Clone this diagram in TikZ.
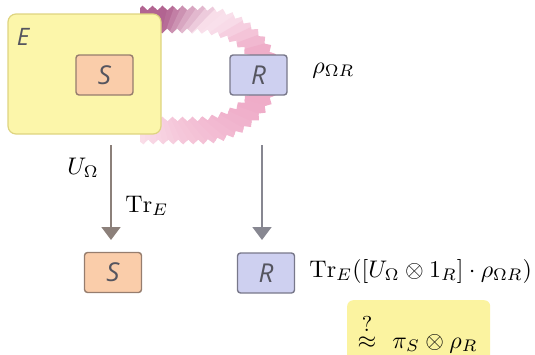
\documentclass[tikz,border=0pt]{standalone}
\usepackage{amsmath}
\usepackage{fontspec}
\usetikzlibrary{arrows.meta,decorations.pathmorphing,calc}
\newfontfamily\boxfont{Open Sans}
\definecolor{eyellow}{RGB}{252,246,170}
\definecolor{eborder}{RGB}{222,212,128}
\definecolor{sfill}{RGB}{250,205,170}
\definecolor{sborder}{RGB}{150,125,110}
\definecolor{rfill}{RGB}{206,208,240}
\definecolor{rborder}{RGB}{120,120,138}
\definecolor{txtgray}{RGB}{85,85,95}
\definecolor{arrL}{RGB}{140,128,122}
\definecolor{arrR}{RGB}{135,135,145}
\definecolor{hl}{RGB}{251,243,160}
\definecolor{bA}{RGB}{178,100,145}
\definecolor{bL}{RGB}{249,224,235}
\definecolor{bP}{RGB}{239,172,200}
\definecolor{bLtwo}{RGB}{250,222,233}
\begin{document}
\begin{tikzpicture}[x=1pt,y=-1pt,
  mathtxt/.style={inner sep=0pt, font=\fontsize{10}{12}\selectfont, scale=2.4},
  smallbox/.style={line width=1.4pt, rounded corners=3pt, minimum width=57pt, minimum height=40pt, inner sep=0pt,
     font=\boxfont\itshape\fontsize{26}{30}\selectfont, text=txtgray},
  sbox/.style={smallbox, draw=sborder, fill=sfill},
  rbox/.style={smallbox, draw=rborder, fill=rfill},
  ebox/.style={draw=eborder, fill=eyellow, line width=1.2pt, rounded corners=8pt, minimum width=153pt, minimum height=120pt, inner sep=0pt},
  bandfill/.style={decoration={zigzag, segment length=10pt, amplitude=2.4pt}},
  arrowL/.style={draw=arrL, line width=1.8pt, -{Triangle[width=19pt,length=13pt]}},
  arrowR/.style={draw=arrR, line width=1.8pt, -{Triangle[width=19pt,length=13pt]}}
]
\useasboundingbox (0,0) rectangle (535,354);
\coordinate (bc) at (150,75);
% entanglement band, shaded by angular sectors
\foreach \ang in {-110,-105,...,105}{
  \pgfmathsetmacro\m{\ang+2.5}
  \pgfmathtruncatemacro\seg{\m<-75 ? 0 : (\m<-42 ? 1 : (\m<-35 ? 2 : (\m<-12 ? 3 : (\m<15 ? 4 : 5))))}
  \ifcase\seg \colorlet{bandc}{bA}
  \or \pgfmathtruncatemacro\w{100*(\m+75)/33}\colorlet{bandc}{bL!\w!bA}
  \or \colorlet{bandc}{bL}
  \or \pgfmathtruncatemacro\w{100*(\m+35)/23}\colorlet{bandc}{bP!\w!bL}
  \or \colorlet{bandc}{bP}
  \or \pgfmathtruncatemacro\w{100*(\m-15)/85}\colorlet{bandc}{bLtwo!\w!bP}
  \fi
  \begin{scope}
    \clip (bc) -- +(\ang-0.4:400) -- +(\ang+5.4:400) -- cycle;
    \fill[bandfill, bandc] (140,8)
      decorate{-- (200,8) .. controls (245,8) and (278,45) .. (278,75) .. controls (278,105) and (245,142) .. (200,142) -- (140,142)}
      -- (140,119)
      decorate{-- (195,119) .. controls (228,119) and (256,97) .. (256,75) .. controls (256,53) and (228,31) .. (195,31) -- (140,31)}
      -- cycle;
  \end{scope}
}
% top row
\node[ebox] (E) at (84.5,74) {};
\node[font=\boxfont\itshape\fontsize{24}{28}\selectfont, text=txtgray, inner sep=0pt] (Elabel) at (23,37) {E};
\node[sbox] (S1) at (104.5,75) {S};
\node[rbox] (R1) at (258.5,75) {R};
\node[mathtxt, anchor=base west] (rho) at (312,73) {$\rho_{\Omega R}$};
% arrows
\coordinate (l1) at (111,145);
\coordinate (l2) at (111,240);
\coordinate (r1) at (262,145);
\coordinate (r2) at (262,240);
\draw[arrowL] (l1) -- (l2);
\draw[arrowR] (r1) -- (r2);
\node[mathtxt, anchor=base west] (UO) at (67,174) {$U_\Omega$};
\node[mathtxt, anchor=base west] (TrE) at (125,212) {$\mathrm{Tr}_E$};
% bottom row
\node[sbox] (S2) at (113,272.5) {S};
\node[rbox] (R2) at (266,273) {R};
\node[mathtxt, anchor=base west] (formula) at (309,277) {$\mathrm{Tr}_E([U_\Omega\otimes 1_R]\cdot\rho_{\Omega R})$};
% highlighted result
\node[fill=hl, rounded corners=6pt, minimum width=143pt, minimum height=62pt, anchor=north west, inner sep=0pt] (hlbox) at (347,300) {};
\node[mathtxt, anchor=base] (approx) at (367,348) {$\overset{\text{\small ?}}{\approx}$};
\node[mathtxt, anchor=base west] (res) at (392,348) {$\pi_S\otimes\rho_R$};
\end{tikzpicture}
\end{document}
